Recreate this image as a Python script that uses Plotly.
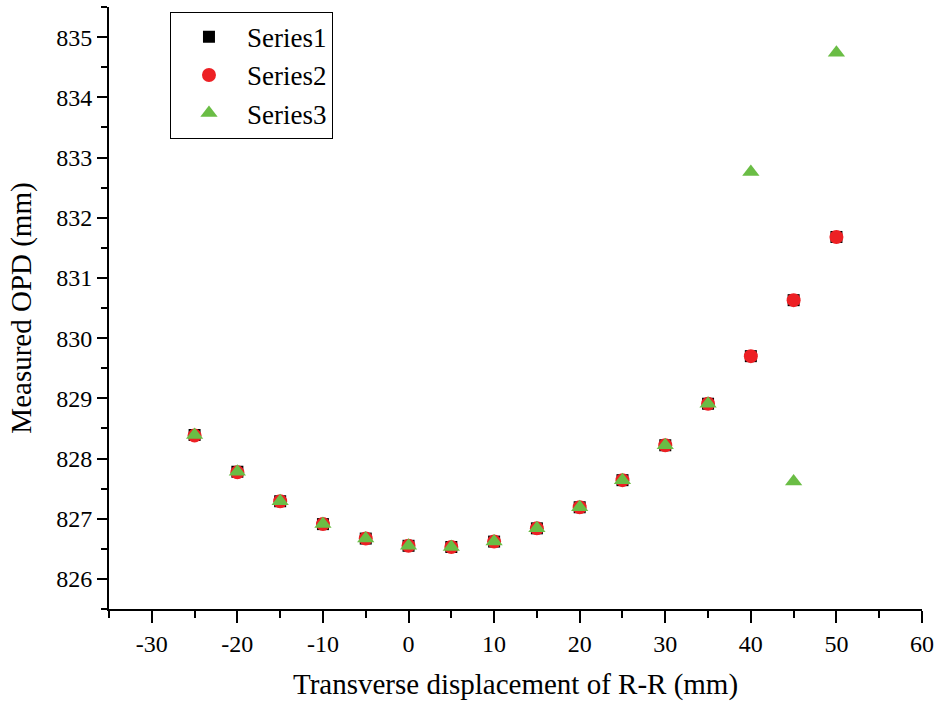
import plotly.graph_objects as go

x_vals = [-25, -20, -15, -10, -5, 0, 5, 10, 15, 20, 25, 30, 35, 40, 45, 50]
series1 = [828.39, 827.78, 827.29, 826.91, 826.67, 826.55, 826.53, 826.62, 826.84, 827.19,
           827.64, 828.22, 828.91, 829.70, 830.63, 831.68]
series2 = [828.38, 827.77, 827.29, 826.91, 826.67, 826.55, 826.53, 826.62, 826.84, 827.19,
           827.64, 828.22, 828.91, 829.70, 830.63, 831.68]
series3 = [828.39, 827.78, 827.29, 826.91, 826.67, 826.55, 826.53, 826.62, 826.84, 827.19,
           827.64, 828.22, 828.91, 832.76, 827.62, 834.74]
x_ticks = [-30, -20, -10, 0, 10, 20, 30, 40, 50, 60]
x_ticklabels = ["-30", "-20", "-10", "0", "10", "20", "30", "40", "50", "60"]
y_ticks = [826, 827, 828, 829, 830, 831, 832, 833, 834, 835]

FONT = "Liberation Serif"

fig = go.Figure()
fig.add_trace(go.Scatter(x=x_vals, y=series1, mode="markers", name="Series1",
                         marker=dict(symbol="square", size=12, color="#000000")))
fig.add_trace(go.Scatter(x=x_vals, y=series2, mode="markers", name="Series2",
                         marker=dict(symbol="circle", size=14, color="#ED2024")))
fig.add_trace(go.Scatter(x=x_vals, y=series3, mode="markers", name="Series3",
                         marker=dict(symbol="triangle-up", size=15, color="#6ABD45")))

fig.update_layout(
    width=935, height=702,
    margin=dict(l=109, r=13, t=7, b=93),
    paper_bgcolor="white", plot_bgcolor="white",
    font=dict(family=FONT, color="black", size=24),
    showlegend=True,
    legend=dict(x=0.075, y=0.992, xanchor="left", yanchor="top",
                bordercolor="black", borderwidth=1, bgcolor="white",
                font=dict(family=FONT, size=27, color="black"),
                itemwidth=66, tracegroupgap=0),
    xaxis=dict(range=[-35, 60], tickvals=x_ticks, ticktext=x_ticklabels,
               showgrid=False, zeroline=False, automargin=False,
               showline=True, linecolor="black", linewidth=2,
               ticks="outside", ticklen=12, tickwidth=2, tickcolor="black",
               minor=dict(dtick=5, tick0=-35, ticks="outside", ticklen=7, tickwidth=2, tickcolor="black"),
               tickfont=dict(family=FONT, size=24, color="black"),
               title=dict(text="Transverse displacement of R-R (mm)",
                          font=dict(family=FONT, size=29, color="black"), standoff=18)),
    yaxis=dict(range=[825.5, 835.5], tickvals=y_ticks,
               showgrid=False, zeroline=False, automargin=False,
               showline=True, linecolor="black", linewidth=2,
               ticks="outside", ticklen=10, tickwidth=2, tickcolor="black",
               minor=dict(dtick=0.5, tick0=825.5, ticks="outside", ticklen=6, tickwidth=2, tickcolor="black"),
               tickfont=dict(family=FONT, size=24, color="black"),
               title=dict(text="Measured OPD (mm)",
                          font=dict(family=FONT, size=29, color="black"), standoff=16)),
)

fig.write_html("out.html")
